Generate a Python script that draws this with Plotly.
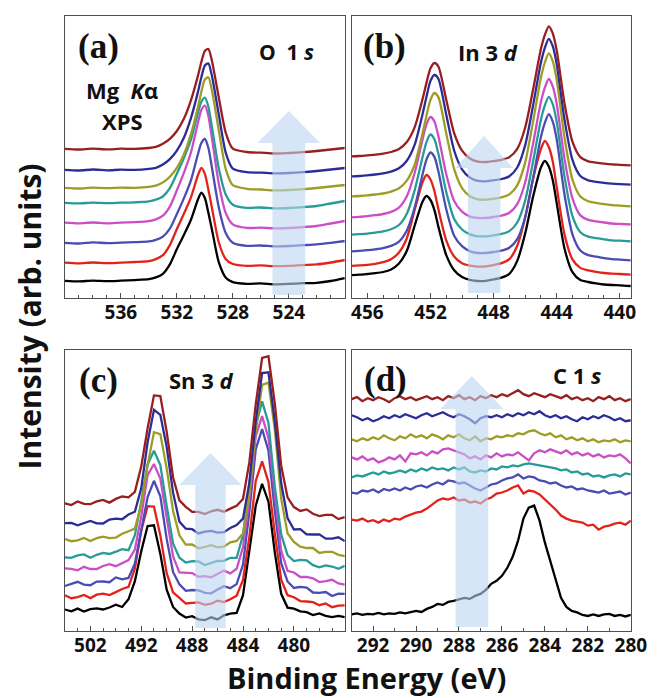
import plotly.graph_objects as go

# ---------------- data ----------------
# (a) O 1s
A_X = [540, 539, 538, 537, 536, 535, 534, 533.5, 533, 532.5, 532, 531.5, 531, 530.5, 530.25, 530,
       529.75, 529.5, 529, 528.5, 528, 527, 526, 525, 524, 523, 522, 521, 520]
a_black = [17.2, 16.6, 17.4, 16.8, 17.3, 17.9, 18.8, 20.6, 24.2, 33.6, 48.9, 63.0, 78.0, 98.3, 105.4, 100.0, 85.4, 69.0, 35.6, 20.3, 15.8, 14.2, 14.6, 13.7, 14.1, 14.8, 15.2, 17.0, 20.0]
a_red = [35.3, 34.6, 35.5, 34.8, 35.4, 36.0, 36.9, 38.9, 42.8, 52.9, 69.0, 84.2, 100.4, 122.5, 130.2, 124.2, 108.5, 90.8, 55.5, 38.8, 34.0, 32.2, 32.6, 31.8, 32.1, 32.9, 33.6, 35.5, 38.0]
a_blue = [55.2, 54.5, 55.6, 54.9, 55.3, 55.8, 56.6, 58.2, 61.4, 69.4, 84.0, 99.6, 117.3, 143.5, 155.0, 159.0, 150.3, 131.0, 90.3, 64.7, 55.2, 52.1, 52.5, 51.6, 52.0, 52.8, 53.6, 55.2, 57.0]
a_magenta = [75.3, 74.6, 75.5, 74.7, 75.4, 75.8, 76.8, 78.6, 82.3, 91.4, 107.7, 125.2, 145.3, 175.0, 187.9, 192.4, 182.4, 160.4, 114.0, 84.7, 73.6, 70.1, 70.4, 69.6, 70.0, 70.8, 72.0, 74.5, 77.0]
a_teal = [95.2, 94.6, 95.4, 94.8, 95.3, 95.7, 96.6, 98.3, 101.5, 109.8, 124.3, 140.0, 158.1, 184.8, 196.4, 200.4, 191.4, 171.6, 129.6, 103.3, 93.3, 90.1, 90.5, 89.6, 90.0, 90.8, 92.0, 94.5, 97.0]
a_olive = [110.2, 109.5, 110.4, 109.8, 110.3, 110.2, 111.1, 112.3, 115.6, 121.3, 130.1, 143.5, 163.6, 190.6, 206.2, 218.5, 220.7, 208.1, 167.3, 128.7, 112.8, 109.2, 108.5, 107.6, 108.0, 108.8, 110.0, 111.5, 113.0]
a_navy = [128.2, 127.5, 128.5, 127.7, 128.3, 128.1, 129.1, 130.2, 133.4, 138.8, 147.3, 160.2, 179.6, 205.6, 220.7, 232.5, 234.6, 222.5, 183.2, 144.9, 129.4, 125.8, 125.4, 124.6, 125.0, 125.8, 127.0, 128.5, 130.0]
a_maroon = [149.2, 148.5, 149.4, 148.6, 149.3, 149.1, 150.0, 151.1, 154.2, 159.1, 167.0, 179.2, 197.4, 221.9, 236.0, 247.1, 249.0, 237.5, 200.2, 164.9, 149.3, 146.0, 145.3, 144.5, 145.0, 145.8, 147.0, 148.5, 150.0]

# (b) In 3d
B_X = [457, 456.5, 456, 455.5, 455, 454.5, 454, 453.5, 453, 452.5, 452.25, 452, 451.75, 451.5, 451,
       450.5, 450, 449.5, 449, 448.5, 448, 447.5, 447, 446.5, 446, 445.5, 445, 444.75, 444.5, 444.25,
       444, 443.5, 443, 442.5, 442, 441.5, 441, 440.5, 440, 439.3]
b_black = [22.9, 23.3, 24.0, 24.8, 26.0, 28.5, 34.5, 47.2, 72.5, 96.5, 102.0, 98.0, 87.9, 71.4, 42.9, 27.8, 21.1, 18.2, 17.0, 17.2, 18.6, 20.4, 24.2, 37.1, 64.4, 101.0, 130.5, 137.0, 131.5, 118.0, 95.1, 49.2, 25.8, 17.9, 16.0, 14.6, 13.5, 13.0, 12.7, 12.0]
b_red = [32.1, 32.6, 33.2, 34.2, 35.8, 38.7, 45.5, 59.8, 88.2, 116.0, 123.0, 118.5, 106.9, 89.0, 57.7, 41.5, 34.7, 32.3, 31.4, 31.6, 32.9, 34.8, 38.8, 52.2, 80.5, 119.0, 149.0, 157.0, 151.0, 136.7, 111.2, 63.3, 38.6, 30.1, 27.7, 26.2, 25.0, 24.4, 24.0, 23.3]
b_blue = [46.7, 47.2, 47.8, 48.7, 49.9, 52.1, 56.3, 67.5, 90.8, 123.8, 138.6, 145.5, 141.1, 126.7, 88.7, 62.2, 51.8, 46.8, 45.0, 45.0, 46.0, 47.4, 50.2, 58.8, 80.5, 119.3, 161.0, 175.2, 183.8, 176.4, 158.9, 103.2, 63.7, 47.5, 42.8, 41.3, 39.9, 38.9, 38.4, 37.7]
b_teal = [63.3, 63.8, 64.4, 65.4, 66.6, 68.7, 73.0, 84.3, 107.9, 141.1, 156.1, 163.5, 158.7, 144.2, 105.9, 79.1, 68.5, 63.6, 61.7, 61.7, 62.7, 64.1, 66.9, 75.5, 97.2, 136.2, 178.2, 192.6, 201.2, 193.9, 176.5, 121.1, 81.8, 65.8, 61.3, 59.9, 58.7, 57.7, 57.3, 56.7]
b_magenta = [80.7, 81.2, 81.8, 82.8, 84.0, 86.1, 90.4, 101.7, 125.3, 158.9, 173.9, 181.0, 176.5, 162.0, 123.7, 96.9, 86.3, 81.4, 80.0, 80.0, 81.0, 82.4, 85.2, 93.8, 115.5, 154.0, 196.0, 210.4, 219.0, 211.7, 194.3, 138.9, 99.6, 82.6, 78.1, 76.7, 75.5, 74.5, 74.1, 73.5]
b_olive = [101.7, 102.0, 102.6, 103.5, 104.5, 106.4, 109.7, 117.4, 133.5, 164.9, 182.6, 198.3, 205.0, 200.9, 164.6, 128.8, 109.9, 101.8, 98.6, 98.3, 99.3, 100.7, 103.6, 112.6, 135.4, 176.1, 220.2, 235.5, 244.6, 236.9, 218.4, 160.1, 118.5, 101.5, 96.8, 95.2, 93.9, 92.9, 92.4, 91.7]
b_navy = [121.7, 122.0, 122.7, 123.5, 124.6, 126.3, 129.7, 137.2, 153.3, 184.1, 201.6, 217.1, 223.0, 219.3, 183.3, 147.5, 128.7, 120.4, 117.1, 116.7, 117.7, 119.0, 121.8, 130.5, 152.6, 192.2, 235.3, 250.1, 259.1, 251.8, 234.0, 178.0, 138.1, 122.0, 117.6, 116.2, 115.1, 114.3, 113.8, 113.3]
b_maroon = [141.7, 142.0, 142.6, 143.3, 144.3, 146.0, 149.0, 156.0, 170.9, 199.2, 215.4, 229.7, 235.0, 231.5, 198.2, 164.8, 147.3, 139.5, 136.3, 136.0, 136.9, 138.2, 140.9, 149.2, 170.3, 208.0, 248.9, 263.1, 271.6, 264.6, 247.7, 194.3, 156.3, 140.9, 136.7, 135.4, 134.4, 133.6, 133.2, 132.7]

# (c) Sn 3d
C_X = [498, 497.5, 497, 496.5, 496, 495.5, 495, 494.5, 494, 493.5, 493, 492.5, 492, 491.5, 491, 490.5,
       490, 489.5, 489, 488.5, 488, 487.5, 487, 486.5, 486, 485.5, 485, 484.5, 484, 483.5, 483, 482.5,
       482, 481.5, 481, 480.5, 480, 479.5, 479, 478.5, 478, 477.5, 477, 476.5, 476]
c_black = [21.5, 19.7, 22.4, 19.4, 21.8, 22.6, 21.5, 23.5, 26.3, 24.0, 31.7, 49.8, 79.7, 105.0, 105.7, 77.1, 41.3, 24.0, 17.4, 13.5, 14.9, 11.7, 10.9, 13.7, 11.6, 15.6, 17.3, 18.0, 35.8, 79.2, 125.2, 147.1, 129.3, 78.4, 37.2, 23.4, 22.3, 19.6, 18.9, 15.9, 17.6, 15.1, 13.9, 15.2, 13.9]
c_red = [35.8, 32.8, 33.9, 36.0, 32.9, 36.3, 37.4, 36.0, 38.9, 42.0, 44.2, 62.6, 100.3, 124.8, 124.5, 95.6, 57.8, 38.7, 33.2, 27.5, 28.1, 28.5, 26.1, 27.3, 30.3, 28.9, 31.7, 35.3, 51.1, 94.4, 150.1, 169.6, 148.9, 97.0, 51.4, 35.8, 33.8, 29.9, 29.5, 28.9, 25.8, 27.6, 23.8, 25.3, 25.6]
c_blue = [45.0, 47.0, 49.2, 46.4, 45.8, 49.4, 49.5, 48.8, 53.6, 51.7, 53.0, 67.6, 99.5, 133.9, 150.2, 134.8, 92.1, 59.1, 46.6, 40.1, 41.0, 40.7, 38.1, 37.7, 41.4, 44.8, 42.8, 46.9, 66.4, 119.7, 181.5, 202.0, 180.2, 120.4, 67.8, 49.5, 43.0, 44.2, 43.4, 38.5, 38.2, 39.0, 35.0, 37.3, 37.2]
c_magenta = [62.7, 62.2, 60.7, 64.2, 62.0, 61.9, 65.0, 66.8, 64.8, 67.7, 71.0, 81.5, 114.4, 155.8, 167.0, 152.4, 111.6, 74.5, 58.6, 58.1, 57.9, 54.2, 54.9, 53.7, 57.4, 60.4, 57.6, 62.3, 83.9, 131.8, 194.8, 214.9, 193.1, 134.1, 80.4, 60.2, 58.5, 54.0, 54.2, 52.7, 48.9, 49.8, 51.2, 47.6, 46.4]
c_teal = [73.7, 73.1, 75.6, 76.6, 73.3, 76.2, 78.1, 77.0, 79.3, 81.9, 80.8, 95.9, 129.4, 166.6, 180.3, 166.0, 125.1, 87.6, 73.3, 68.4, 69.9, 69.5, 66.0, 68.1, 70.0, 70.1, 73.2, 73.1, 96.0, 147.7, 205.1, 229.6, 208.0, 144.1, 96.6, 75.9, 69.9, 71.1, 70.6, 65.8, 63.7, 65.6, 64.5, 62.2, 65.1]
c_olive = [92.0, 89.8, 90.7, 93.0, 90.0, 92.8, 94.3, 92.9, 93.4, 97.3, 99.8, 102.4, 126.1, 165.9, 198.8, 196.9, 162.6, 120.3, 95.7, 86.4, 86.6, 82.7, 84.0, 85.8, 83.6, 84.3, 88.7, 90.0, 97.4, 137.1, 199.6, 246.2, 248.4, 201.4, 132.5, 97.7, 89.1, 84.4, 83.0, 83.0, 78.0, 79.2, 79.2, 76.1, 74.9]
c_navy = [107.8, 108.1, 105.7, 107.9, 110.1, 107.6, 107.5, 111.5, 112.3, 111.8, 116.5, 119.3, 142.7, 188.7, 221.2, 216.1, 184.1, 138.6, 109.4, 102.3, 101.8, 97.6, 99.4, 100.1, 98.3, 98.8, 103.0, 105.9, 112.4, 148.3, 209.5, 258.0, 258.7, 209.3, 148.0, 113.0, 101.5, 101.9, 96.6, 96.5, 96.6, 92.4, 92.4, 93.7, 89.9]
c_maroon = [127.7, 126.0, 129.5, 127.2, 126.8, 129.6, 131.1, 128.4, 132.1, 134.5, 133.6, 139.1, 164.4, 202.8, 235.6, 235.0, 199.4, 153.8, 130.6, 124.2, 119.2, 119.2, 117.0, 119.7, 121.2, 119.3, 122.4, 125.1, 132.0, 168.8, 226.6, 273.0, 274.8, 227.3, 165.3, 133.6, 123.9, 120.1, 121.6, 117.2, 114.9, 116.2, 116.1, 111.9, 113.8]

# (d) C 1s
D_X = [293, 292.75, 292.5, 292.25, 292, 291.75, 291.5, 291.25, 291, 290.75, 290.5, 290.25, 290,
       289.75, 289.5, 289.25, 289, 288.75, 288.5, 288.25, 288, 287.75, 287.5, 287.25, 287, 286.75,
       286.5, 286.25, 286, 285.75, 285.5, 285.25, 285, 284.75, 284.5, 284.25, 284, 283.75, 283.5,
       283.25, 283, 282.75, 282.5, 282.25, 282, 281.75, 281.5, 281.25, 281, 280.75, 280.5, 280.25, 280]
d_black = [16.5, 17.5, 16, 17, 16.5, 18, 16.5, 17.5, 17, 18.5, 17.5, 19, 20, 19, 22, 24, 27, 26, 29, 30, 31.5, 33, 32, 35, 37, 41, 47, 50, 55, 63, 74, 90, 112, 123, 125, 110, 88, 70, 52, 33, 24, 20, 18.5, 16, 15, 16.5, 15, 16.5, 17, 15, 16, 14.5, 16]
d_red = [111, 110, 112, 109, 110.5, 108, 111, 109, 112, 111, 114, 116, 118, 119, 122, 126, 130, 132, 131, 133, 130, 131, 128, 129, 127, 131, 133, 137, 138, 140, 143, 145, 137, 140, 139, 136, 131, 127, 121, 115, 112, 110, 109, 108, 105, 106, 101, 104, 105, 107, 108, 106, 110]
d_blue = [138, 137, 140, 139, 141, 138, 141.5, 140, 142, 140, 143, 141, 144, 145, 143, 146, 148, 146, 150, 149, 147, 148, 145, 142, 140, 143, 146, 147, 150, 152, 153, 156, 152, 154, 153, 150, 149, 147, 148, 145, 143, 144, 141, 142, 140, 139, 138, 140, 137, 138, 139, 136, 138]
d_teal = [153, 155, 154, 156, 158, 156, 159, 157, 158, 160, 158, 161, 159, 162, 160, 163, 161, 162, 160, 163, 161, 163, 159, 158, 160, 159, 162, 161, 164, 163, 165, 164, 166, 167, 166, 165, 164, 163, 162, 160, 161, 158, 159, 156, 157, 154, 155, 153, 155, 156, 154, 157, 156]
d_magenta = [173, 171, 174, 170, 172, 168, 170, 173, 171, 175, 169, 177, 176, 178, 175, 179, 177, 181, 182, 180, 178, 176, 172, 174, 171, 175, 173, 177, 174, 176, 175, 178, 174, 170, 177, 180, 178, 181, 179, 177, 180, 176, 178, 175, 177, 174, 176, 173, 175, 174, 176, 172, 167]
d_olive = [191, 189, 192, 190, 193, 191, 195, 192, 190, 194, 192, 196, 193, 195, 192, 196, 194, 191, 195, 193, 196, 192, 190, 194, 189, 192, 191, 194, 193, 195, 194, 197, 196, 199, 200, 197, 195, 197, 193, 195, 191, 193, 190, 192, 189, 191, 188, 190, 189, 191, 188, 190, 189]
d_navy = [215, 213, 210, 212, 209, 211, 214, 212, 215, 213, 216, 214, 212, 215, 217, 214, 216, 218, 215, 213, 216, 214, 211, 207, 212, 214, 213, 215, 213, 216, 214, 217, 215, 218, 216, 219, 215, 213, 215, 212, 214, 211, 209, 213, 211, 214, 212, 215, 213, 210, 212, 209, 210]
d_maroon = [231, 233, 229, 232, 230, 233, 231, 228, 232, 234, 231, 233, 230, 232, 234, 231, 233, 230, 234, 232, 235, 231, 233, 230, 234, 232, 235, 233, 236, 234, 237, 240, 236, 234, 237, 235, 233, 236, 234, 232, 235, 231, 233, 230, 232, 229, 233, 231, 234, 230, 232, 229, 231]

# tick labels
A_TICKS = [536, 532, 528, 524]
B_TICKS = [456, 452, 448, 444, 440]
C_TICKS = [496, 492, 488, 484, 480]
C_TICKTEXT = ["502", "492", "488", "484", "480"]
D_TICKS = [292, 290, 288, 286, 284, 282, 280]

# ---------------- styling ----------------
W, H = 672, 698
COLORS = {"black": "#000000", "red": "#e3231b", "blue": "#4b4bb4", "magenta": "#cc4ec6",
          "teal": "#279b97", "olive": "#9d9d26", "navy": "#2c2c98", "maroon": "#981f1f"}
ORDER = ["black", "red", "blue", "magenta", "teal", "olive", "navy", "maroon"]

panels = [
    dict(x=A_X, ys=[a_black, a_red, a_blue, a_magenta, a_teal, a_olive, a_navy, a_maroon], shape="spline"),
    dict(x=B_X, ys=[b_black, b_red, b_blue, b_magenta, b_teal, b_olive, b_navy, b_maroon], shape="spline"),
    dict(x=C_X, ys=[c_black, c_red, c_blue, c_magenta, c_teal, c_olive, c_navy, c_maroon], shape="linear"),
    dict(x=D_X, ys=[d_black, d_red, d_blue, d_magenta, d_teal, d_olive, d_navy, d_maroon], shape="linear"),
]

def px(x):
    return x / W

def py(y):
    return 1 - y / H

fig = go.Figure()
for i, p in enumerate(panels):
    suf = "" if i == 0 else str(i + 1)
    for name, y in zip(ORDER, p["ys"]):
        fig.add_trace(go.Scatter(
            x=p["x"], y=y, mode="lines", xaxis="x" + suf, yaxis="y" + suf,
            line=dict(color=COLORS[name], width=2.3, shape=p["shape"], smoothing=0.7),
            showlegend=False, hoverinfo="skip"))

FRAME = "#505050"
TICKFONT = dict(family="Open Sans", size=19, color="#111111", weight="bold")

def xax(domain, rng, tickvals, ticktext=None, minor=1):
    d = dict(domain=domain, range=rng, tickvals=tickvals, showline=True, mirror=True,
             linecolor=FRAME, linewidth=1.3, ticks="inside", ticklen=5, tickwidth=1.2,
             tickcolor=FRAME, showgrid=False, zeroline=False, tickfont=TICKFONT,
             ticklabelstandoff=-3,
             minor=dict(ticks="inside", ticklen=3, tickwidth=1, tickcolor=FRAME, dtick=minor, showgrid=False))
    if ticktext is not None:
        d["ticktext"] = ticktext
    return d

def yax(domain, rng):
    return dict(domain=domain, range=rng, showline=True, mirror=True, linecolor=FRAME,
                linewidth=1.3, ticks="", showticklabels=False, showgrid=False, zeroline=False)

XL = [px(58.3), px(345)]
XR = [px(352), px(638)]
YT = [py(290), py(8)]
YB = [py(623), py(342)]

fig.update_layout(
    width=W, height=H, margin=dict(l=0, r=0, t=0, b=0),
    paper_bgcolor="white", plot_bgcolor="white", showlegend=False,
    xaxis=dict(xax(XL, [540, 520], A_TICKS), anchor="y"),
    yaxis=dict(yax(YT, [0, 282]), anchor="x"),
    xaxis2=dict(xax(XR, [457, 439.3], B_TICKS), anchor="y2"),
    yaxis2=dict(yax(YT, [0, 282]), anchor="x2"),
    xaxis3=dict(xax(XL, [498, 476], C_TICKS, C_TICKTEXT), anchor="y3"),
    yaxis3=dict(yax(YB, [0, 281]), anchor="x3"),
    xaxis4=dict(xax(XR, [293, 280], D_TICKS), anchor="y4"),
    yaxis4=dict(yax(YB, [0, 280]), anchor="x4"),
)

# translucent "up" arrows (in data coordinates of each panel)
ARROWS = [
    dict(ax="x", ay="y", xc=524.0, shaft=1.17, head=2.24, y0=3, yb=155, yt=187),
    dict(ax="x2", ay="y2", xc=448.6, shaft=1.03, head=1.85, y0=5, yb=130, yt=162),
    dict(ax="x3", ay="y3", xc=486.56, shaft=1.2, head=2.45, y0=3, yb=146, yt=178),
    dict(ax="x4", ay="y4", xc=287.4, shaft=0.76, head=1.48, y0=4, yb=221, yt=254),
]
for a in ARROWS:
    xc, s, h = a["xc"], a["shaft"], a["head"]
    path = (f"M {xc - s},{a['y0']} L {xc - s},{a['yb']} L {xc - h},{a['yb']} L {xc},{a['yt']} "
            f"L {xc + h},{a['yb']} L {xc + s},{a['yb']} L {xc + s},{a['y0']} Z")
    fig.add_shape(type="path", path=path, xref=a["ax"], yref=a["ay"],
                  fillcolor="rgba(188,213,240,0.6)", line=dict(width=0), layer="above")

SANS = "Open Sans"
SERIF = "Liberation Serif"
NB = "\u00a0"
labels = [
    ("(a)", 70, 38),
    ("(b)", 362, 38),
    ("(c)", 71, 372),
    ("(d)", 363, 371),
]
for t, x, y in labels:
    fig.add_annotation(text=t, x=px(x), y=py(y), xref="paper", yref="paper", xanchor="left",
                       yanchor="middle", showarrow=False,
                       font=dict(family=SERIF, size=35, color="#111111", weight="bold"))

texts = [
    ("O" + NB + NB + "1" + NB + "<i>s</i>", 285, 44, 21),
    ("Mg" + NB + NB + "<i>K</i>α", 117, 82, 22),
    ("XPS", 117, 113, 22),
    ("In" + NB + "3" + NB + "<i>d</i>", 492, 44, 22),
    ("Sn" + NB + "3" + NB + "<i>d</i>", 198, 372, 22),
    ("C" + NB + "1" + NB + "<i>s</i>", 583, 367, 22),
]
for t, x, y, sz in texts:
    fig.add_annotation(text=t, x=px(x), y=py(y), xref="paper", yref="paper", xanchor="center",
                       yanchor="middle", showarrow=False, borderpad=0,
                       font=dict(family=SANS, size=sz, color="#111111", weight="bold"))

fig.add_annotation(text="Binding Energy (eV)", x=px(367), y=py(669), xref="paper", yref="paper",
                   xanchor="center", yanchor="middle", showarrow=False, borderpad=0,
                   font=dict(family=SANS, size=29, color="#111111", weight="bold"))
fig.add_annotation(text="Intensity (arb. units)", x=px(22), y=py(308), xref="paper", yref="paper",
                   xanchor="center", yanchor="middle", showarrow=False, textangle=-90,
                   font=dict(family=SANS, size=30, color="#111111", weight="bold"))

fig.write_html("out.html")
